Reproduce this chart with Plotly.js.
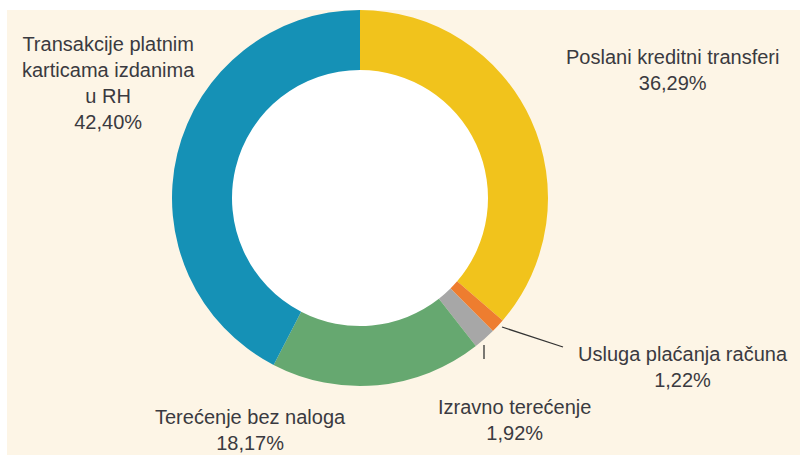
<!DOCTYPE html>
<html>
<head>
<meta charset="utf-8">
<script src="https://cdn.plot.ly/plotly-3.0.1.min.js"></script>
<style>html,body{margin:0;padding:0;background:#fff;}#chart{width:800px;height:455px;}</style>
</head>
<body>
<div id="chart"></div>
<script>
// Data (clockwise from 12 o'clock)
var labels = ["Poslani kreditni transferi", "Usluga plaćanja računa", "Izravno terećenje", "Terećenje bez naloga", "Transakcije platnim<br>karticama izdanima<br>u RH"];
var values = [36.29, 1.22, 1.92, 18.17, 42.40];
var colors = ["#f1c31c", "#ee7d2f", "#a7a7a7", "#66a870", "#1591b6"];

// Layout constants (pixels)
var W = 800, H = 455;
var cx = 360, cy = 198, R = 188, holeR = 128;
var labelPos = [[672, 70], [683, 367], [514, 420], [250, 430], [108, 83]];

function px(x) { return x / W; }
function py(y) { return 1 - y / H; }
function fmt(v) { return v.toFixed(2).replace('.', ',') + '%'; }

var domain = {x: [px(cx - R), px(cx + R)], y: [py(cy + R), py(cy - R)]};
var holeDomain = {x: [px(cx - holeR - 4), px(cx + holeR + 4)], y: [py(cy + holeR + 4), py(cy - holeR - 4)]};

var traces = [
  {type: 'pie', values: [1], labels: ['hole'], marker: {colors: ['#ffffff'], line: {width: 0}},
   textinfo: 'none', hoverinfo: 'skip', showlegend: false, sort: false, domain: holeDomain},
  {type: 'pie', values: values, labels: labels, marker: {colors: colors, line: {width: 0}},
   hole: holeR / R, sort: false, direction: 'clockwise', rotation: 0,
   textinfo: 'none', hoverinfo: 'label+value', showlegend: false, domain: domain}
];

var annotations = labels.map(function (l, i) {
  return {text: l + '<br>' + fmt(values[i]), x: px(labelPos[i][0]), y: py(labelPos[i][1]),
    xref: 'paper', yref: 'paper', xanchor: 'center', yanchor: 'middle', showarrow: false,
    align: 'center', font: {family: 'Liberation Sans, Arial, sans-serif', size: 20, color: '#3a3a40'}};
});

var shapes = [
  {type: 'rect', xref: 'paper', yref: 'paper', x0: px(7), x1: 1, y0: 0, y1: py(10),
   fillcolor: '#fdf5e6', line: {width: 0}, layer: 'below'},
  {type: 'line', xref: 'paper', yref: 'paper', x0: px(502), y0: py(327), x1: px(563), y1: py(347),
   line: {color: '#333333', width: 1.3}},
  {type: 'line', xref: 'paper', yref: 'paper', x0: px(484), y0: py(345), x1: px(484), y1: py(359),
   line: {color: '#333333', width: 1.3}}
];

var layout = {
  width: W, height: H, margin: {l: 0, r: 0, t: 0, b: 0},
  paper_bgcolor: '#ffffff', plot_bgcolor: 'rgba(0,0,0,0)',
  showlegend: false, annotations: annotations, shapes: shapes
};

Plotly.newPlot('chart', traces, layout, {displayModeBar: false, staticPlot: true});
</script>
</body>
</html>
